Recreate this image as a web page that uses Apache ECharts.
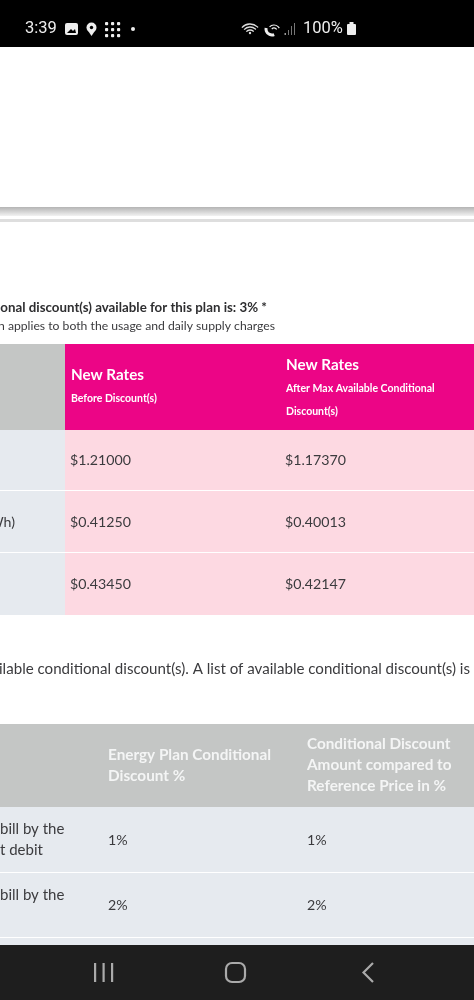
<!DOCTYPE html>
<html>
<head>
<meta charset="utf-8">
<style>html,body{margin:0;padding:0;background:#fff}#chart{width:474px;height:1000px}</style>
<script src="https://cdn.jsdelivr.net/npm/echarts@6/dist/echarts.min.js"></script>
</head>
<body>
<div id="chart"></div>
<script>
// rates table
var rateLabels = ['', 'Wh)', ''];
var ratesBefore = ['$1.21000', '$0.41250', '$0.43450'];
var ratesAfter = ['$1.17370', '$0.40013', '$0.42147'];

// discount table
var discountLabels = ['bill by the\nt debit', 'bill by the\n '];
var planDiscount = ['1%', '2%'];
var referenceDiscount = ['1%', '2%'];
var discountHeaders = ['Energy Plan Conditional\nDiscount %', 'Conditional Discount\nAmount compared to\nReference Price in %'];

var FONT = 'Lato';
var TEXT = '#3b3b3e';
var PINK = '#ec0586', ROSE = '#fdd9e2', GREY = '#c4c6c5', BLUE = '#e6eaef';

function cell(col, row, value, color, label) {
    return {
        coord: [col, row],
        value: value,
        itemStyle: {color: color, borderWidth: 0},
        label: Object.assign({show: true, position: 'insideLeft', overflow: 'none', color: TEXT, fontFamily: FONT, fontSize: 14.2, lineHeight: 21}, label)
    };
}

function rateCells() {
    var rich = {
        t: {fontFamily: FONT, fontSize: 15.2, fontWeight: 'bold', color: '#fff', lineHeight: 23},
        s: {fontFamily: FONT, fontSize: 10.5, fontWeight: 'bold', color: '#fff', lineHeight: 23}
    };
    var out = [
        cell(0, 0, '', GREY),
        cell(1, 0, '{t|New Rates}\n{s|Before Discount(s)}', PINK, {distance: 2, color: '#fff', rich: rich, padding: [20, 0, 0, 4]}),
        cell(2, 0, '{t|New Rates}\n{s|After Max Available Conditional}\n{s|Discount(s)}', PINK, {distance: 2, color: '#fff', rich: rich, padding: [10, 0, 0, 4]})
    ];
    rateLabels.forEach(function (t, i) {
        out.push(cell(0, i + 1, t, BLUE, {position: 'insideRight', distance: 47}));
        out.push(cell(1, i + 1, ratesBefore[i], ROSE, {distance: 2}));
        out.push(cell(2, i + 1, ratesAfter[i], ROSE, {distance: 2}));
    });
    return out;
}

function discountCells() {
    var head = {distance: 17, color: '#f4f5f5', fontWeight: 'bold', fontSize: 15.3};
    var out = [
        cell(0, 0, '', GREY),
        cell(1, 0, discountHeaders[0], GREY, head),
        cell(2, 0, discountHeaders[1], GREY, head)
    ];
    discountLabels.forEach(function (t, i) {
        out.push(cell(0, i + 1, t, BLUE, {distance: 0, fontSize: 15, padding: 0}));
        out.push(cell(1, i + 1, planDiscount[i], BLUE, {distance: 17}));
        out.push(cell(2, i + 1, referenceDiscount[i], BLUE, {distance: 17}));
    });
    return out;
}

function line(y) {
    return {type: 'rect', z: 100, shape: {x: 0, y: y, width: 474, height: 1}, style: {fill: '#fff'}};
}

// phone chrome and running text
var chrome = [
    {type: 'rect', shape: {x: 0, y: 0, width: 474, height: 47}, style: {fill: '#000'}},
    {type: 'rect', z: 100, shape: {x: 0, y: 945, width: 474, height: 55}, style: {fill: '#1e1e1e'}},
    {type: 'rect', shape: {x: 0, y: 207, width: 474, height: 9}, style: {fill: new echarts.graphic.LinearGradient(0, 0, 0, 1, [{offset: 0, color: '#b4b4b4'}, {offset: 1, color: '#f2f2f2'}])}},
    {type: 'rect', shape: {x: 0, y: 219, width: 474, height: 3}, style: {fill: '#dedede'}},
    line(490), line(552), line(872), line(937),
    {type: 'text', x: 25, y: 20, style: {text: '3:39', fill: '#eee', font: '16.5px Roboto'}},
    {type: 'text', x: 303, y: 20, style: {text: '100%', fill: '#eee', font: '16.5px Roboto'}},
    {type: 'text', x: 267, y: 301, style: {text: 'onal discount(s) available for this plan is: 3% *', fill: '#2e2e30', align: 'right', font: 'bold 13.3px Lato'}},
    {type: 'text', x: 275, y: 320, style: {text: 'n applies to both the usage and daily supply charges', fill: TEXT, align: 'right', font: '12.2px Lato'}},
    {type: 'text', x: 470, y: 662, style: {text: 'ailable conditional discount(s). A list of available conditional discount(s) is', fill: TEXT, align: 'right', font: '15.1px Lato'}},
    // status icons
    {type: 'rect', z: 100, shape: {x: 65, y: 23, width: 13, height: 12, r: 2}, style: {fill: '#eee'}},
    {type: 'polygon', z: 101, shape: {points: [[67, 33], [71, 29], [73, 31], [75, 29], [76, 33]]}, style: {fill: '#000'}},
    {type: 'circle', z: 100, shape: {cx: 91.5, cy: 27.5, r: 5}, style: {fill: '#eee'}},
    {type: 'polygon', z: 100, shape: {points: [[87.5, 30], [95.5, 30], [91.5, 36]]}, style: {fill: '#eee'}},
    {type: 'circle', z: 101, shape: {cx: 91.5, cy: 27.5, r: 1.7}, style: {fill: '#000'}},
    {type: 'circle', z: 100, shape: {cx: 133, cy: 29, r: 2}, style: {fill: '#eee'}},
    {type: 'arc', shape: {cx: 250, cy: 35, r: 11, startAngle: -2.4, endAngle: -0.75}, style: {stroke: '#ddd', fill: null, lineWidth: 1.3}},
    {type: 'arc', shape: {cx: 250, cy: 35, r: 8, startAngle: -2.4, endAngle: -0.75}, style: {stroke: '#ddd', fill: null, lineWidth: 1.3}},
    {type: 'arc', shape: {cx: 250, cy: 35, r: 5, startAngle: -2.4, endAngle: -0.75}, style: {stroke: '#ddd', fill: null, lineWidth: 1.3}},
    {type: 'circle', shape: {cx: 250, cy: 33, r: 1.2}, style: {fill: '#ddd'}},
    {type: 'arc', shape: {cx: 272, cy: 29, r: 6, startAngle: 1.2, endAngle: 3.3}, style: {stroke: '#eee', fill: null, lineWidth: 3}},
    {type: 'arc', shape: {cx: 274, cy: 31, r: 6, startAngle: -2.4, endAngle: -0.5}, style: {stroke: '#eee', fill: null, lineWidth: 1.2}},
    {type: 'arc', shape: {cx: 274, cy: 31, r: 3, startAngle: -2.4, endAngle: -0.5}, style: {stroke: '#eee', fill: null, lineWidth: 1.2}},
    {type: 'rect', shape: {x: 284.5, y: 33, width: 1.5, height: 2}, style: {fill: '#999'}},
    {type: 'rect', shape: {x: 288, y: 30, width: 1, height: 5}, style: {fill: '#777'}},
    {type: 'rect', shape: {x: 291, y: 26, width: 1, height: 9}, style: {fill: '#777'}},
    {type: 'rect', shape: {x: 294, y: 23, width: 1, height: 12}, style: {fill: '#777'}},
    {type: 'rect', shape: {x: 347, y: 24, width: 9, height: 11, r: 1}, style: {fill: '#eee'}},
    {type: 'rect', shape: {x: 349.5, y: 22, width: 4, height: 2}, style: {fill: '#eee'}},
    // nav buttons
    {type: 'rect', z: 101, shape: {x: 94, y: 963, width: 2.2, height: 19}, style: {fill: '#aaa'}},
    {type: 'rect', z: 101, shape: {x: 102.5, y: 963, width: 2.2, height: 19}, style: {fill: '#aaa'}},
    {type: 'rect', z: 101, shape: {x: 111, y: 963, width: 2.2, height: 19}, style: {fill: '#aaa'}},
    {type: 'rect', z: 101, shape: {x: 226, y: 963, width: 19, height: 19, r: 6}, style: {fill: null, stroke: '#aaa', lineWidth: 2.2}},
    {type: 'polyline', z: 101, shape: {points: [[373, 963], [363.5, 972.5], [373, 982]]}, style: {fill: null, stroke: '#aaa', lineWidth: 2.2}}
];
for (var r = 0; r < 3; r++) {
    for (var c = 0; c < 3; c++) {
        chrome.push({type: 'rect', shape: {x: 105 + c * 6, y: 22 + r * 6, width: 3.2, height: 3.2, r: 1}, style: {fill: '#eee'}});
    }
}

var chart = echarts.init(document.getElementById('chart'), null, {renderer: 'canvas'});
chart.setOption({
    backgroundColor: '#fff',
    animation: false,
    graphic: {elements: chrome},
    matrix: [
        {
            left: 0, top: 344, width: 474, height: 271,
            x: {show: false, data: [{value: 'a', size: 65}, {value: 'b', size: 215}, {value: 'c', size: 194}]},
            y: {show: false, data: [{value: 'h', size: 86}, {value: 'r1', size: 61}, {value: 'r2', size: 62}, {value: 'r3', size: 62}]},
            body: {data: rateCells(), itemStyle: {borderWidth: 0}, label: {show: true}},
            backgroundStyle: {borderWidth: 0}
        },
        {
            left: 0, top: 724, width: 474, height: 221,
            x: {show: false, data: [{value: 'a', size: 88}, {value: 'b', size: 199}, {value: 'c', size: 187}]},
            y: {show: false, data: [{value: 'h', size: 83}, {value: 'r1', size: 66}, {value: 'r2', size: 65}, {value: 'r3', size: 7}]},
            body: {data: discountCells(), itemStyle: {color: BLUE, borderWidth: 0}, label: {show: true}},
            backgroundStyle: {borderWidth: 0}
        }
    ]
});
</script>
</body>
</html>
